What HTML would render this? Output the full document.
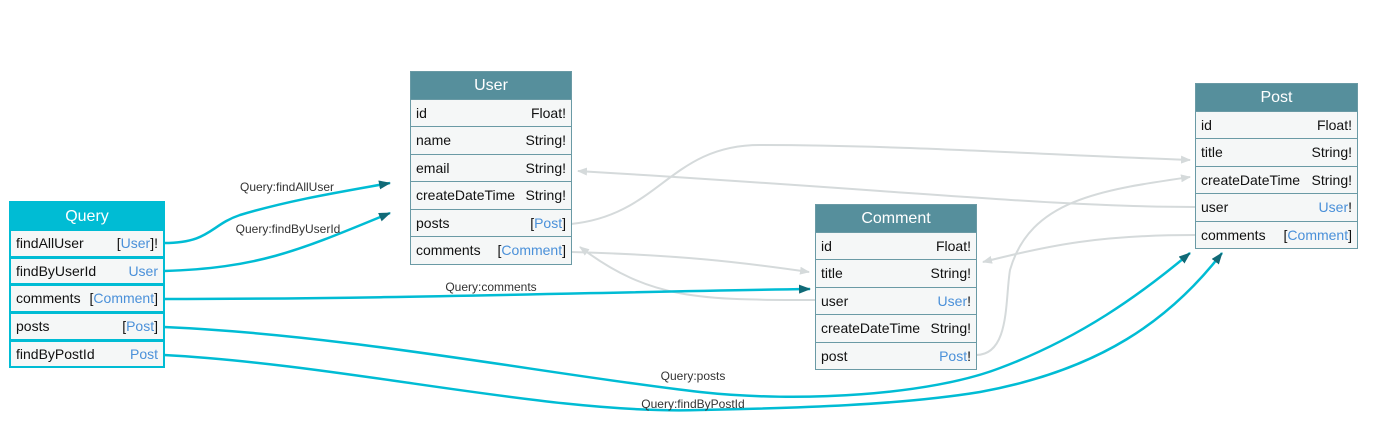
<!DOCTYPE html>
<html><head><meta charset="utf-8"><style>
body{margin:0;width:1376px;height:443px;background:#fff;position:relative;overflow:hidden;font-family:"Liberation Sans",sans-serif;}
.t{position:absolute;background:#f5f7f7;border:1px solid #6a9aa5;box-sizing:border-box;}
.t .h{height:26.5px;background:#568f9c;color:#fff;font-size:16px;text-align:center;line-height:27px;}
.t .r{height:27.6px;border-top:1.5px solid #6a9aa5;font-size:14px;line-height:26px;padding:0 5px;display:flex;justify-content:space-between;color:#111;box-sizing:border-box;}
.q{border:2px solid #00bcd4;}
.q .h{background:#00bcd4;height:25px;}
.q .r{border-top:3px solid #00bcd4;height:27.7px;line-height:25px;}
.b{color:#4a90d9;}
svg{position:absolute;left:0;top:0;}
.lb{font-size:12px;fill:#333;font-family:"Liberation Sans",sans-serif;}
</style></head><body>
<svg width="1376" height="443">
<defs>
<marker id="ag" markerWidth="10" markerHeight="8" refX="9" refY="4" orient="auto" markerUnits="userSpaceOnUse"><path d="M0,0L10,4L0,8z" fill="#d5dadb"/></marker>
<marker id="ac" markerWidth="12" markerHeight="9" refX="11" refY="4.5" orient="auto" markerUnits="userSpaceOnUse"><path d="M0,0L12,4.5L0,9z" fill="#106a77"/></marker>
</defs>
<g fill="none" stroke="#d5dadb" stroke-width="2" marker-end="url(#ag)">
<path d="M571,224 C660,215 670,145 760,145 C900,145 1050,155 1190,160"/>
<path d="M1195,207 C1050,207 900,190 578,171"/>
<path d="M571,252 C680,255 740,262 809,272"/>
<path d="M815,300 C700,300 650,300 580,247"/>
<path d="M1195,235 C1100,235 1050,245 983,262"/>
<path d="M976,355 C1010,355 1005,300 1010,270 C1030,200 1100,190 1190,177"/>
</g>
<g fill="none" stroke="#00bcd4" stroke-width="2.5" marker-end="url(#ac)">
<path d="M164,243 C210,243 210,225 240,215 C290,200 340,192 390,183"/>
<path d="M164,271 C260,268 300,250 390,213"/>
<path d="M164,299 C400,299 600,292 810,289"/>
<path d="M164,327 C350,335 550,375 700,392 C800,403 930,395 1000,368 C1080,338 1140,295 1190,253"/>
<path d="M164,355 C350,365 550,415 700,410 C800,408 900,405 980,392 C1100,370 1170,320 1222,253"/>
</g>
<text class="lb" x="287" y="191" text-anchor="middle">Query:findAllUser</text>
<text class="lb" x="288" y="233" text-anchor="middle">Query:findByUserId</text>
<text class="lb" x="491" y="291" text-anchor="middle">Query:comments</text>
<text class="lb" x="693" y="380" text-anchor="middle">Query:posts</text>
<text class="lb" x="693" y="408" text-anchor="middle">Query:findByPostId</text>
</svg>

<div class="t q" style="left:9px;top:201px;width:156px;">
<div class="h">Query</div>
<div class="r"><span>findAllUser</span><span>[<span class="b">User</span>]!</span></div>
<div class="r"><span>findByUserId</span><span class="b">User</span></div>
<div class="r"><span>comments</span><span>[<span class="b">Comment</span>]</span></div>
<div class="r"><span>posts</span><span>[<span class="b">Post</span>]</span></div>
<div class="r"><span>findByPostId</span><span class="b">Post</span></div>
</div>

<div class="t" style="left:410px;top:71px;width:162px;">
<div class="h">User</div>
<div class="r"><span>id</span><span>Float!</span></div>
<div class="r"><span>name</span><span>String!</span></div>
<div class="r"><span>email</span><span>String!</span></div>
<div class="r"><span>createDateTime</span><span>String!</span></div>
<div class="r"><span>posts</span><span>[<span class="b">Post</span>]</span></div>
<div class="r"><span>comments</span><span>[<span class="b">Comment</span>]</span></div>
</div>

<div class="t" style="left:815px;top:204px;width:162px;">
<div class="h">Comment</div>
<div class="r"><span>id</span><span>Float!</span></div>
<div class="r"><span>title</span><span>String!</span></div>
<div class="r"><span>user</span><span><span class="b">User</span>!</span></div>
<div class="r"><span>createDateTime</span><span>String!</span></div>
<div class="r"><span>post</span><span><span class="b">Post</span>!</span></div>
</div>

<div class="t" style="left:1195px;top:83px;width:163px;">
<div class="h">Post</div>
<div class="r"><span>id</span><span>Float!</span></div>
<div class="r"><span>title</span><span>String!</span></div>
<div class="r"><span>createDateTime</span><span>String!</span></div>
<div class="r"><span>user</span><span><span class="b">User</span>!</span></div>
<div class="r"><span>comments</span><span>[<span class="b">Comment</span>]</span></div>
</div>
</body></html>
